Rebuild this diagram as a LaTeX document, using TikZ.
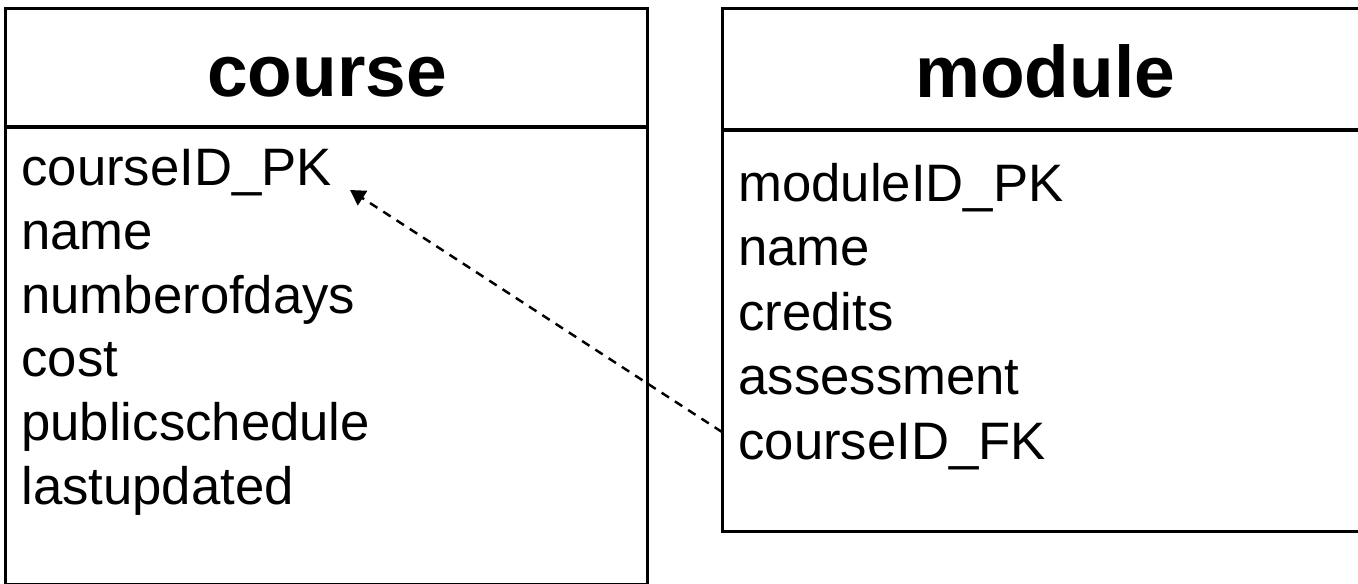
\documentclass[tikz,border=0pt]{standalone}
\usepackage{fontspec}
\setmainfont{Liberation Sans}
\usetikzlibrary{arrows.meta}
\begin{document}
\begin{tikzpicture}[x=0.02cm,y=-0.02cm,
  boxline/.style={draw=black,line width=1.9pt},
  title/.style={anchor=base,inner sep=0pt,font=\fontsize{41.6}{48}\selectfont\bfseries},
  field/.style={anchor=base west,inner sep=0pt,font=\fontsize{30}{35}\selectfont},
  fk/.style={line width=1.4pt,dash pattern=on 5pt off 4pt,-{Triangle[length=0.30cm,width=0.34cm]}}]
\useasboundingbox (0,0) rectangle (1358,584);
\begin{scope}
\clip (0,0) rectangle (1358,584);
% course table
\node[boxline,rectangle,minimum width=642*0.02cm,minimum height=576*0.02cm,anchor=north west,inner sep=0pt] (courseBox) at (4,7) {};
\draw[boxline] (4,127) -- (646,127);
% module table
\node[boxline,rectangle,minimum width=650*0.02cm,minimum height=523*0.02cm,anchor=north west,inner sep=0pt] (moduleBox) at (721,7) {};
\draw[boxline] (721,130) -- (1371,130);
\end{scope}
\node[title] (courseTitle) at (327,97) {course};
\node[title] (moduleTitle) at (1045,98) {module};
\node[field] (cPK) at (21,186) {courseID\_PK};
\node[field] (cName) at (21,249.6) {name};
\node[field] (cDays) at (21,313.2) {numberofdays};
\node[field] (cCost) at (21,376.8) {cost};
\node[field] (cSched) at (21,440.4) {publicschedule};
\node[field] (cUpd) at (21,504) {lastupdated};
\node[field] (mPK) at (738,201) {moduleID\_PK};
\node[field] (mName) at (738,265.5) {name};
\node[field] (mCred) at (738,330) {credits};
\node[field] (mAss) at (738,394.5) {assessment};
\node[field] (mFK) at (738,459) {courseID\_FK};
\coordinate (fkStart) at (722,432);
\coordinate (pkTip) at (350,190);
\draw[fk] (fkStart) -- (pkTip);
\end{tikzpicture}
\end{document}
